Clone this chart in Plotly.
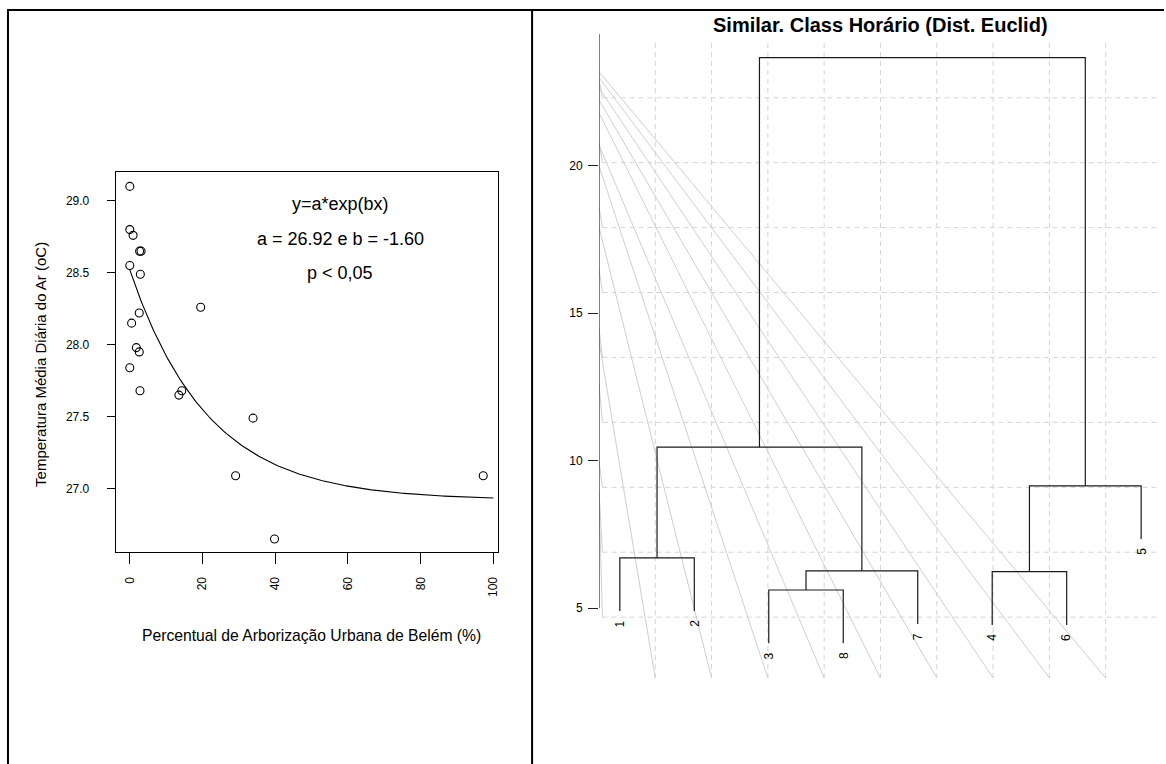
import plotly.graph_objects as go
import numpy as np

W, H = 1166, 764

# ---------------- Left panel data ----------------
arb_pct = [0, 0, 0.9, 2.7, 3.1, 0, 2.9, 19.5, 2.6, 0.5, 1.8, 2.6, 0, 2.8, 13.5, 14.3, 33.9, 29.1, 97.2, 39.8]
temp_media = [29.10, 28.80, 28.76, 28.65, 28.65, 28.55, 28.49, 28.26, 28.22, 28.15,
              27.98, 27.95, 27.84, 27.68, 27.65, 27.68, 27.49, 27.09, 27.09, 26.65]
fit_base = 26.92
fit_amp = 1.60
fit_rate = 0.0467
left_xticks = [0, 20, 40, 60, 80, 100]
left_yticks = [27.0, 27.5, 28.0, 28.5, 29.0]
fit_texts = ["y=a*exp(bx)", "a = 26.92 e b = -1.60", "p < 0,05"]

# ---------------- Dendrogram data ----------------
leaf_order = ["1", "2", "3", "8", "7", "4", "6", "5"]
merge_left = [-3, -4, 1, -1, 2, 4, 6]
merge_right = [-8, -6, -7, -2, -5, 3, 5]
merge_height = [5.62, 6.24, 6.27, 6.71, 9.15, 10.46, 23.66]
right_yticks = [5, 10, 15, 20]

# background guide lines (decorative), heights on left axis where they start
guide_start_heights = [14.06, 17.92, 19.99, 20.70, 21.79, 22.23, 22.64, 22.98, 23.18]
hgrid_guide_start = [8.8, 9.0, 10.0, 12.6, 14.5, 16.5, 18.6, 20.8, 22.9]

FONT = "Liberation Sans, Arial, sans-serif"

def px_x(p):
    return p / W

def px_y(p):
    return 1 - p / H

fig = go.Figure()

# ---------- left scatter ----------
fx = np.linspace(0, 100, 201)
fy = fit_base + fit_amp * np.exp(-fit_rate * fx)
fig.add_trace(go.Scatter(x=fx, y=fy, mode="lines", line=dict(color="black", width=1.1),
                         xaxis="x", yaxis="y", showlegend=False, hoverinfo="skip"))
fig.add_trace(go.Scatter(x=arb_pct, y=temp_media, mode="markers",
                         marker=dict(symbol="circle-open", size=8, color="black", line=dict(width=1.1)),
                         xaxis="x", yaxis="y", showlegend=False))

# ---------- dendrogram ----------
hang = 0.1 * (max(merge_height) - min(merge_height))
node_pos = {}
seg_x, seg_y = [], []
leaf_label_pos = []
for i, (l, r, h) in enumerate(zip(merge_left, merge_right, merge_height)):
    pts = []
    for c in (l, r):
        if c < 0:
            xc = leaf_order.index(str(-c)) + 1
            yc = h - hang
            leaf_label_pos.append((xc, yc, str(-c)))
        else:
            xc, yc = node_pos[c]
        pts.append((xc, yc))
    (xl, yl), (xr, yr) = pts
    seg_x += [xl, xl, xr, xr, None]
    seg_y += [yl, h, h, yr, None]
    node_pos[i + 1] = ((xl + xr) / 2, h)

x2_lo, x2_hi = 0.72, 8.28
y2_lo, y2_hi = 2.638, 24.46

shapes = []
# vertical grid lines (R grid, nx=10 across usr)
vgrid = [x2_lo + k * (x2_hi - x2_lo) / 10 for k in range(1, 10)]
for gx in vgrid:
    shapes.append(dict(type="line", xref="x2", yref="y2", x0=gx, x1=gx, y0=y2_lo, y1=24.29,
                       line=dict(color="#d4d4d4", width=1, dash="5px,4px"), layer="below"))
hgrid = [4.70 + 2.2 * j for j in range(9)]
for gy in hgrid:
    shapes.append(dict(type="line", xref="x2", yref="y2", x0=0.767, x1=8.205, y0=gy, y1=gy,
                       line=dict(color="#d4d4d4", width=1, dash="5px,4px"), layer="below"))
# gray guide lines
for gx, ys in zip(vgrid, guide_start_heights):
    shapes.append(dict(type="line", xref="x2", yref="y2", x0=x2_lo, x1=gx, y0=ys, y1=y2_lo,
                       line=dict(color="#cfcfcf", width=1), layer="below"))
for gy, ys in zip(hgrid, hgrid_guide_start):
    shapes.append(dict(type="line", xref="x2", yref="y2", x0=x2_lo, x1=0.767, y0=ys, y1=gy,
                       line=dict(color="#cfcfcf", width=1), layer="below"))
# left axis line of dendrogram
shapes.append(dict(type="line", xref="x2", yref="y2", x0=x2_lo, x1=x2_lo, y0=5, y1=24.49,
                   line=dict(color="#333333", width=1.3)))

fig.add_trace(go.Scatter(x=seg_x, y=seg_y, mode="lines", line=dict(color="#1a1a1a", width=1.2),
                         xaxis="x2", yaxis="y2", showlegend=False, hoverinfo="skip"))

# frame lines
shapes.append(dict(type="line", xref="paper", yref="paper", x0=px_x(7), x1=1, y0=px_y(10), y1=px_y(10),
                   line=dict(color="black", width=2)))
shapes.append(dict(type="line", xref="paper", yref="paper", x0=px_x(8), x1=px_x(8), y0=0, y1=px_y(10),
                   line=dict(color="black", width=2)))
shapes.append(dict(type="line", xref="paper", yref="paper", x0=px_x(533), x1=px_x(533), y0=0, y1=px_y(10),
                   line=dict(color="black", width=2)))

annotations = []
for (xc, yc, lab) in leaf_label_pos:
    annotations.append(dict(x=xc, y=yc, xref="x2", yref="y2", text=lab, showarrow=False,
                            textangle=-90, xanchor="center", yanchor="top", yshift=-7,
                            font=dict(family=FONT, size=12, color="black")))
annotations.append(dict(x=px_x(882), y=px_y(25), xref="paper", yref="paper",
                        text="<b>Similar. Class Horário (Dist. Euclid)</b>", showarrow=False,
                        xanchor="center", yanchor="middle", font=dict(family=FONT, size=20, color="black")))
for t, yy in zip(fit_texts, [204, 239, 273]):
    annotations.append(dict(x=px_x(341), y=px_y(yy), xref="paper", yref="paper", text=t, showarrow=False,
                            xanchor="center", yanchor="middle", font=dict(family=FONT, size=18, color="black")))
annotations.append(dict(x=px_x(312), y=px_y(635), xref="paper", yref="paper",
                        text="Percentual de Arborização Urbana de Belém (%)", showarrow=False,
                        xanchor="center", yanchor="middle", font=dict(family=FONT, size=15.7, color="black")))
annotations.append(dict(x=px_x(40), y=px_y(364), xref="paper", yref="paper",
                        text="Temperatura Média Diária do Ar (oC)", showarrow=False, textangle=-90,
                        xanchor="center", yanchor="middle", font=dict(family=FONT, size=15, color="black")))

tickfont = dict(family=FONT, size=12, color="black")
fig.update_layout(
    width=W, height=H, autosize=False,
    margin=dict(l=0, r=0, t=0, b=0),
    paper_bgcolor="white", plot_bgcolor="white",
    showlegend=False,
    xaxis=dict(domain=[px_x(116), px_x(499)], range=[-3.85, 101.3], anchor="y",
               showline=True, mirror=True, linecolor="black", linewidth=1.3,
               ticks="outside", ticklen=11, tickcolor="black", tickwidth=1,
               tickvals=left_xticks, ticktext=[str(v) for v in left_xticks], tickangle=-90,
               tickfont=tickfont, showgrid=False, zeroline=False, ticklabelstandoff=8),
    yaxis=dict(domain=[px_y(552), px_y(172)], range=[26.56, 29.20], anchor="x",
               showline=True, mirror=True, linecolor="black", linewidth=1.3,
               ticks="outside", ticklen=8, tickcolor="black", tickwidth=1,
               tickvals=left_yticks, ticktext=[f"{v:.1f}" for v in left_yticks],
               tickfont=tickfont, showgrid=False, zeroline=False, ticklabelstandoff=15),
    xaxis2=dict(domain=[px_x(600), px_x(1164)], range=[x2_lo, x2_hi], anchor="y2",
                showline=False, showticklabels=False, ticks="", showgrid=False, zeroline=False),
    yaxis2=dict(domain=[px_y(678), px_y(34)], range=[y2_lo, y2_hi], anchor="x2",
                showline=False, ticks="outside", ticklen=10, tickcolor="#222", tickwidth=1,
                tickvals=right_yticks, ticktext=[str(v) for v in right_yticks],
                tickfont=tickfont, showgrid=False, zeroline=False, ticklabelstandoff=3),
    shapes=shapes,
    annotations=annotations,
)

fig.write_html("out.html",
               config={"displayModeBar": False},
               post_script="document.body.style.margin='0px';document.body.style.overflow='hidden';")
